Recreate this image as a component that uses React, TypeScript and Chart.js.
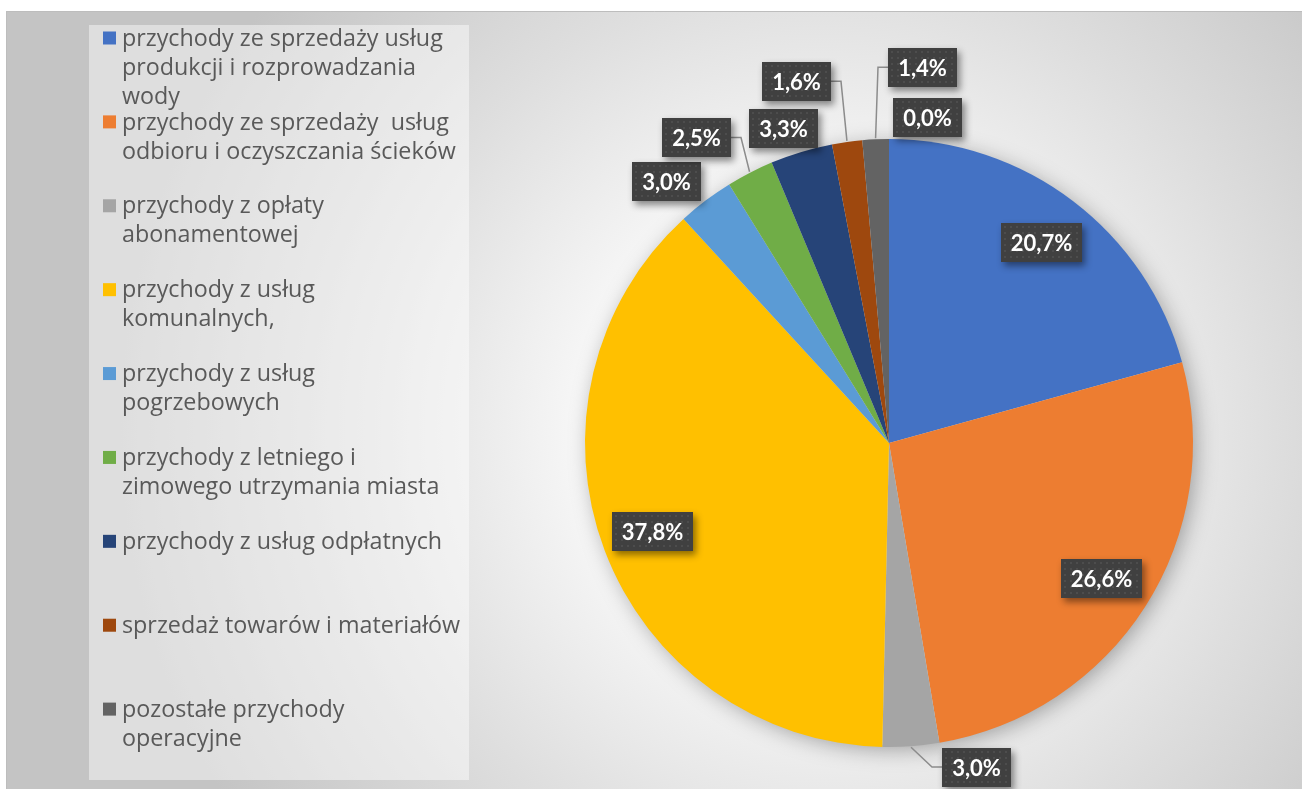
import React, { useEffect, useRef } from "react";
import { Chart, registerables } from "chart.js";

Chart.register(...registerables);

// ---- data ----
const categories: string[] = [
  "przychody ze sprzedaży usług\nprodukcji i rozprowadzania\nwody",
  "przychody ze sprzedaży  usług\nodbioru i oczyszczania ścieków",
  "przychody z opłaty\nabonamentowej",
  "przychody z usług\nkomunalnych,",
  "przychody z usług\npogrzebowych",
  "przychody z letniego i\nzimowego utrzymania miasta",
  "przychody z usług odpłatnych",
  "sprzedaż towarów i materiałów",
  "pozostałe przychody\noperacyjne",
  "",
];
const shares: number[] = [20.7, 26.6, 3.0, 37.8, 3.0, 2.5, 3.3, 1.6, 1.4, 0.0];
const valueLabels: string[] = shares.map((v) => v.toFixed(1).replace(".", ",") + "%");
const colors: string[] = [
  "#4472C4", "#ED7D31", "#A5A5A5", "#FFC000", "#5B9BD5",
  "#70AD47", "#264478", "#9E480E", "#636363", "#997300",
];

// ---- layout (label placement tweaks relative to computed arc anchors) ----
const W = 1302;
const H = 789;
const LEGEND_BOX = { x: 89, y: 25, w: 380, h: 755 };
const OUTSIDE_GAP = 45;
const INSIDE_FACTOR = 0.83;
const labelShift: Record<number, [number, number]> = {
  2: [62, -24],
  4: [-12, 17],
  5: [-33, 5],
  6: [-5, 20],
  7: [-44, -16],
  8: [49, -27],
  9: [38, 23],
};
const LEGEND_FONT = "23.3px 'Open Sans'";
const LABEL_FONT = "bold 22px Lato";

const backgroundPlugin = {
  id: "bgAndLegend",
  beforeDraw(chart: any) {
    const ctx: CanvasRenderingContext2D = chart.ctx;
    ctx.save();
    ctx.fillStyle = "#ffffff";
    ctx.fillRect(0, 0, W, H);
    const g = ctx.createRadialGradient(820, 430, 0, 820, 430, 700);
    g.addColorStop(0, "#ffffff");
    g.addColorStop(0.35, "#f6f6f6");
    g.addColorStop(0.65, "#dedede");
    g.addColorStop(1, "#c4c4c4");
    ctx.fillStyle = g;
    ctx.fillRect(6, 11, W - 6, H - 11);
    ctx.strokeStyle = "#bdbdbd";
    ctx.lineWidth = 1;
    ctx.beginPath();
    ctx.moveTo(6.5, H);
    ctx.lineTo(6.5, 11.5);
    ctx.lineTo(W, 11.5);
    ctx.stroke();

    ctx.fillStyle = "rgba(255,255,255,0.45)";
    ctx.fillRect(LEGEND_BOX.x, LEGEND_BOX.y, LEGEND_BOX.w, LEGEND_BOX.h);

    const labels: string[] = chart.data.labels;
    const bg: string[] = chart.data.datasets[0].backgroundColor;
    const items = labels.map((l, i) => ({ l, i })).filter((o) => o.l !== "");
    const slot = LEGEND_BOX.h / items.length;
    ctx.font = LEGEND_FONT;
    ctx.textBaseline = "middle";
    ctx.textAlign = "left";
    items.forEach((it, k) => {
      const cy = LEGEND_BOX.y + k * slot + 13;
      ctx.fillStyle = bg[it.i];
      ctx.fillRect(103, cy - 6.5, 13, 13);
      ctx.fillStyle = "#595959";
      it.l.split("\n").forEach((line, j) => {
        ctx.fillText(line, 122, cy + 1 + j * 29);
      });
    });
    ctx.restore();
  },
};

const shadowPlugin = {
  id: "pieShadow",
  beforeDatasetsDraw(chart: any) {
    const meta = chart.getDatasetMeta(0);
    const arc: any = meta.data[0];
    if (!arc) return;
    const ctx: CanvasRenderingContext2D = chart.ctx;
    ctx.save();
    ctx.shadowColor = "rgba(0,0,0,0.35)";
    ctx.shadowBlur = 22;
    ctx.shadowOffsetX = 4;
    ctx.shadowOffsetY = 4;
    ctx.fillStyle = "#dddddd";
    ctx.beginPath();
    ctx.arc(arc.x, arc.y, arc.outerRadius - 2, 0, Math.PI * 2);
    ctx.fill();
    ctx.restore();
  },
};

const labelPlugin = {
  id: "valueLabels",
  afterDatasetsDraw(chart: any) {
    const ctx: CanvasRenderingContext2D = chart.ctx;
    const meta = chart.getDatasetMeta(0);
    const vals: number[] = chart.data.datasets[0].data;
    ctx.save();
    ctx.font = LABEL_FONT;
    const boxes: any[] = [];
    meta.data.forEach((el: any, i: number) => {
      const { x, y, startAngle, endAngle, outerRadius } = el.getProps(
        ["x", "y", "startAngle", "endAngle", "outerRadius"],
        true
      );
      const mid = (startAngle + endAngle) / 2;
      const inside = vals[i] >= 10;
      let cx: number, cy: number;
      if (inside) {
        cx = x + Math.cos(mid) * outerRadius * INSIDE_FACTOR;
        cy = y + Math.sin(mid) * outerRadius * INSIDE_FACTOR;
      } else {
        const s = labelShift[i] || [0, 0];
        cx = x + Math.cos(mid) * (outerRadius + OUTSIDE_GAP) + s[0];
        cy = y + Math.sin(mid) * (outerRadius + OUTSIDE_GAP) + s[1];
      }
      const text = valueLabels[i];
      const w = Math.round(ctx.measureText(text).width + 20);
      const h = 39;
      const left = Math.round(cx - w / 2);
      const top = Math.round(cy - h / 2);
      const px = x + Math.cos(mid) * (outerRadius + 1);
      const py = y + Math.sin(mid) * (outerRadius + 1);
      boxes.push({ text, left, top, w, h, cx, cy, px, py, inside });
    });

    ctx.strokeStyle = "#8c8c8c";
    ctx.lineWidth = 1.5;
    boxes.forEach((b) => {
      if (b.inside) return;
      const right = b.left + b.w;
      const bottom = b.top + b.h;
      const dx = Math.max(b.left - b.px, 0, b.px - right);
      const dy = Math.max(b.top - b.py, 0, b.py - bottom);
      if (Math.hypot(dx, dy) <= 15) return;
      const side = b.px < b.cx ? b.left : right;
      const elbowX = side === b.left ? side - 10 : side + 10;
      ctx.beginPath();
      ctx.moveTo(b.px, b.py);
      ctx.lineTo(elbowX, b.cy);
      ctx.lineTo(side, b.cy);
      ctx.stroke();
    });

    boxes.forEach((b) => {
      ctx.save();
      ctx.shadowColor = "rgba(0,0,0,0.45)";
      ctx.shadowBlur = 7;
      ctx.shadowOffsetX = 3;
      ctx.shadowOffsetY = 4;
      ctx.fillStyle = "#404040";
      ctx.fillRect(b.left, b.top, b.w, b.h);
      ctx.restore();
      ctx.fillStyle = "rgba(255,255,255,0.07)";
      for (let yy = b.top + 3; yy < b.top + b.h - 1; yy += 6) {
        for (let xx = b.left + 3; xx < b.left + b.w - 1; xx += 6) {
          ctx.fillRect(xx, yy, 2, 2);
        }
      }
      ctx.fillStyle = "#ffffff";
      ctx.textAlign = "center";
      ctx.textBaseline = "middle";
      ctx.fillText(b.text, b.left + b.w / 2, b.top + b.h / 2 + 1);
    });
    ctx.restore();
  },
};

export default function App() {
  const ref = useRef<HTMLCanvasElement | null>(null);

  useEffect(() => {
    document.body.style.margin = "0";
    const canvas = ref.current;
    if (!canvas) return;
    const chart = new Chart(canvas, {
      type: "pie",
      data: {
        labels: categories,
        datasets: [
          {
            data: shares,
            backgroundColor: colors,
            borderWidth: 0,
          },
        ],
      },
      options: {
        responsive: false,
        devicePixelRatio: 1,
        animation: false,
        layout: { padding: { left: 585, right: 109, top: 139, bottom: 42 } },
        plugins: {
          legend: { display: false },
          tooltip: { enabled: false },
        },
      },
      plugins: [backgroundPlugin, shadowPlugin, labelPlugin],
    });
    const fonts: any = (document as any).fonts;
    if (fonts && fonts.load) {
      Promise.all([fonts.load(LEGEND_FONT), fonts.load(LABEL_FONT)])
        .then(() => chart.draw())
        .catch(() => {});
    }
    return () => chart.destroy();
  }, []);

  return (
    <div style={{ position: "fixed", left: 0, top: 0, width: W, height: H }}>
      <canvas ref={ref} width={W} height={H} style={{ display: "block", width: W, height: H }} />
    </div>
  );
}
